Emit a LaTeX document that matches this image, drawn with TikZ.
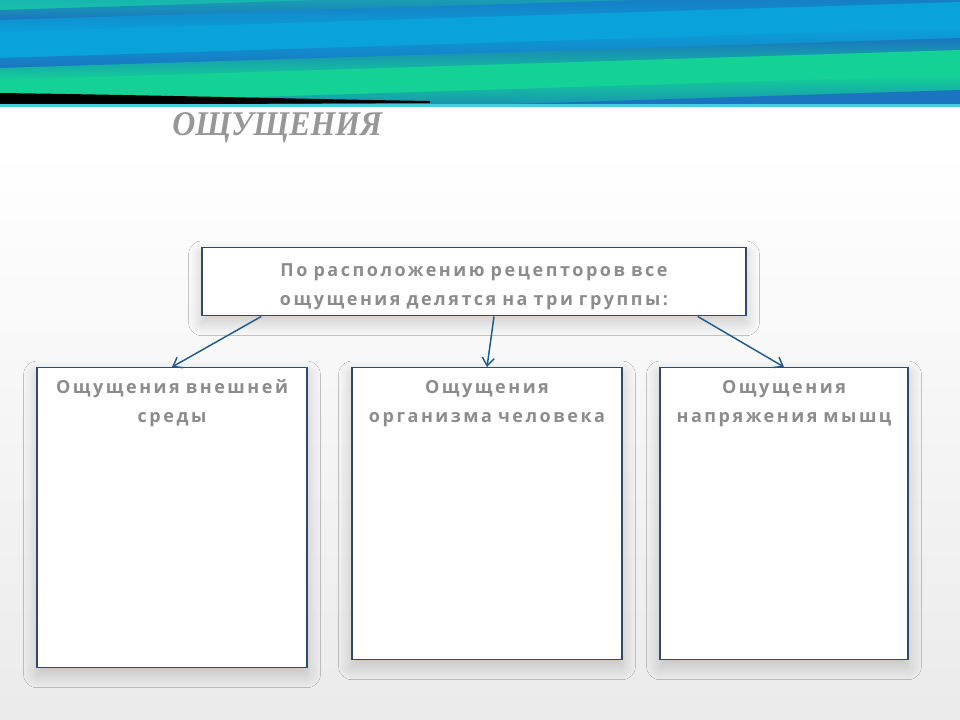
\documentclass[tikz,border=0pt]{standalone}
\usepackage{fontspec}
\usetikzlibrary{arrows.meta,calc,shadows.blur}

\newfontfamily\boxfont{Open Sans}[LetterSpace=14]
\newfontfamily\titlefont{Liberation Serif}[FakeStretch=0.92]

\definecolor{framecol}{HTML}{2E4B6B}
\definecolor{arrowcol}{HTML}{1F5C8E}
\definecolor{textgray}{HTML}{8C8C8C}
\definecolor{bandblue}{HTML}{0AA2DA}
\definecolor{bandmid}{HTML}{1490C8}
\definecolor{bandteal}{HTML}{18C4A6}
\definecolor{banddark}{HTML}{1A74C0}
\definecolor{bandgreen}{HTML}{14D296}
\definecolor{bandcyan}{HTML}{45CDE0}

\begin{document}
\begin{tikzpicture}[x=0.75pt,y=-0.75pt]
        \tikzstyle{arrow} = [line width=1.1pt,-{Straight Barb[length=6pt,width=9pt]},draw=arrowcol]
        \tikzstyle{box} = [draw=framecol,line width=1.1pt,fill=white,
            blur shadow={shadow xshift=0pt,shadow yshift=-5pt,shadow blur radius=10pt,shadow blur steps=16,shadow opacity=20},
            inner sep=0pt,align=center,text=textgray,
            font=\boxfont\bfseries\fontsize{13.5}{21.75}\selectfont]

        \useasboundingbox (0,0) rectangle (960,720);
        \shade[top color=white,bottom color=black!8] (0,150) rectangle (960,720);

        % banner, bands rise slightly to the right
        \begin{scope}
            \clip (0,0) rectangle (960,104);
            \fill[bandblue] (0,0) rectangle (960,104);
            \begin{scope}[yslant=0.03125]
                \foreach \ya/\ca/\yb/\cb in {-40/bandmid/0/bandmid, 0/bandmid/10/bandteal, 10/bandteal/20/banddark,
                        20/banddark/32/bandblue, 32/bandblue/58/bandblue, 58/bandblue/68/banddark,
                        68/banddark/80/bandgreen, 80/bandgreen/105/bandgreen, 105/bandgreen/120/banddark,
                        120/banddark/150/banddark}
                    \shade[top color=\ca,bottom color=\cb] (-10,\ya) rectangle (970,\yb+1);
            \end{scope}
        \end{scope}
        \fill[black] (0,93) .. controls (150,95) and (300,99) .. (430,101) -- (430,103) -- (0,105) -- cycle;
        \fill[bandcyan] (0,104) rectangle (960,107);

        \node[anchor=base west,inner sep=0pt,text=textgray!90,font=\titlefont\bfseries\itshape\fontsize{26}{30}\selectfont] (title) at (172,136) {ОЩУЩЕНИЯ};

        \node[box,anchor=north,text width=408pt,text height=21.75pt,text depth=29.25pt] (groups) at (474,247)
            {По расположению рецепторов все\\ощущения делятся на три группы:};
        \node[box,anchor=north,text width=202.5pt,text height=19.5pt,text depth=205.5pt] (outer) at (172,367)
            {Ощущения внешней\\среды};
        \node[box,anchor=north,text width=202.5pt,text height=19.5pt,text depth=199.5pt] (body) at (487,367)
            {Ощущения\\организма человека};
        \node[box,anchor=north,text width=186pt,text height=19.5pt,text depth=199.5pt] (muscle) at (784,367)
            {Ощущения\\напряжения мышц};

        \draw [arrow] ($(groups.south west)+(60,0)$) -- (outer.north);
        \draw [arrow] ($(groups.south)+(20,0)$) -- (body.north);
        \draw [arrow] ($(groups.south east)+(-49,0)$) -- (muscle.north);
\end{tikzpicture}
\end{document}
